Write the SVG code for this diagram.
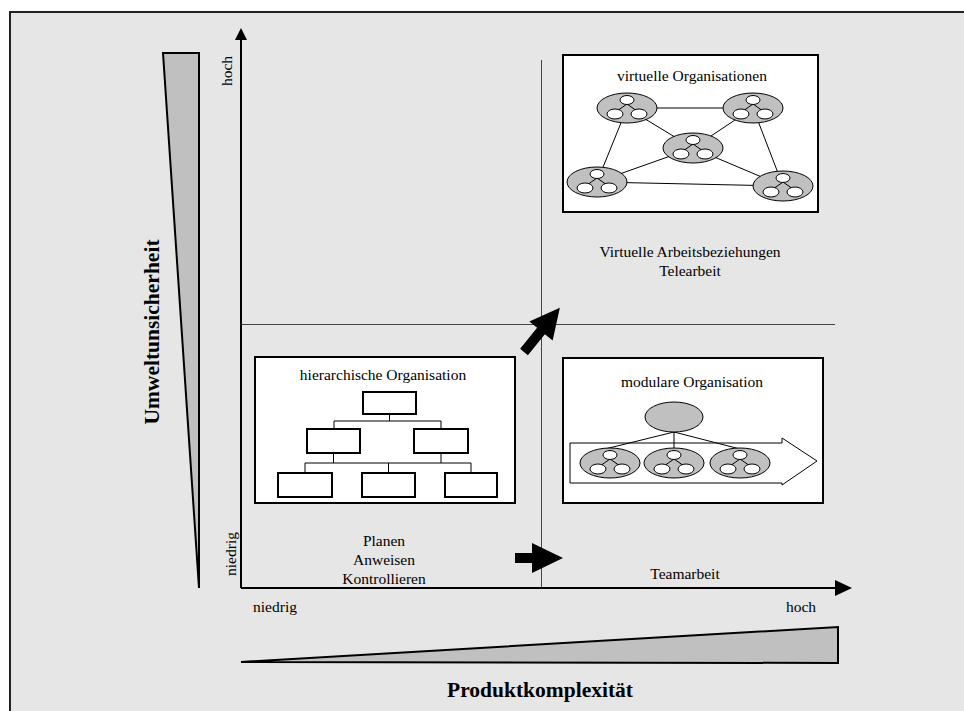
<svg xmlns="http://www.w3.org/2000/svg" width="964" height="711" viewBox="0 0 964 711">
<defs>
<style>
text{font-family:"Liberation Serif","Times New Roman",serif;fill:#000}
.lbl{font-size:15.5px;text-anchor:middle}
.big{font-size:21.5px;font-weight:bold;text-anchor:middle}
.box{fill:#fff;stroke:#000;stroke-width:2}
.thin{stroke:#000;stroke-width:1;fill:none}
.div{stroke:#444;stroke-width:1}
.grp{fill:#c0c0c0;stroke:#000;stroke-width:1}
.sm{fill:#fff;stroke:#000;stroke-width:1}
.wedge{fill:#c0c0c0;stroke:#000;stroke-width:2;stroke-linejoin:miter}
</style>
<g id="team">
<ellipse class="grp" cx="0" cy="0" rx="30" ry="15"/>
<path class="thin" d="M0,-4 L-10,3 M0,-4 L10,3"/>
<ellipse class="sm" cx="0" cy="-8" rx="7" ry="4.5"/>
<ellipse class="sm" cx="-12" cy="6" rx="8" ry="5"/>
<ellipse class="sm" cx="12" cy="6" rx="8" ry="5"/>
</g>
</defs>
<rect x="0" y="0" width="964" height="711" fill="#fff"/>
<rect x="10" y="12" width="1000" height="800" fill="#e6e6e6" stroke="#222" stroke-width="2"/>

<g id="wedges">
<polygon class="wedge" points="163,53 199,53 199,588"/>
<polygon class="wedge" points="241,662 838,627 838,663"/>
</g>

<g id="connectors">
<line class="div" x1="541.5" y1="60" x2="541.5" y2="588"/>
<line class="div" x1="241" y1="324.5" x2="835" y2="324.5"/>
<line x1="241" y1="588" x2="241" y2="38" stroke="#000" stroke-width="2"/>
<polygon points="241,28 235,40 247,40" fill="#000"/>
<line x1="241" y1="588" x2="836" y2="588" stroke="#000" stroke-width="2"/>
<polygon points="852,588 835,580 835,596" fill="#000"/>
<polygon points="515,553 532,553 532,543 563,558 532,573 532,563 515,563" fill="#000"/>
<path d="M0,-5 L27,-5 L27,-15 L57,0 L27,15 L27,5 L0,5 Z" fill="#000" transform="translate(524,352) rotate(-51)"/>
</g>

<g id="axis-labels">
<text class="big" transform="translate(159,332) rotate(-90)">Umweltunsicherheit</text>
<text class="big" x="540" y="697">Produktkomplexität</text>
<text class="lbl" transform="translate(232,71) rotate(-90)">hoch</text>
<text class="lbl" transform="translate(236,554) rotate(-90)">niedrig</text>
<text class="lbl" x="275" y="612">niedrig</text>
<text class="lbl" x="801" y="612">hoch</text>
</g>

<g id="virtual">
<rect class="box" x="563" y="55" width="255" height="157"/>
<text class="lbl" x="692" y="81">virtuelle Organisationen</text>
<path class="thin" d="M627,108 L753,108 M627,108 L693,148 M753,108 L693,148 M627,108 L597,182 M753,108 L783,186 M693,148 L597,182 M693,148 L783,186 M597,182 L783,186"/>
<use href="#team" x="627" y="108"/>
<use href="#team" x="753" y="108"/>
<use href="#team" x="693" y="148"/>
<use href="#team" x="597" y="182"/>
<use href="#team" x="783" y="186"/>
</g>

<g id="virtual-text">
<text class="lbl" x="690" y="257">Virtuelle Arbeitsbeziehungen</text>
<text class="lbl" x="690" y="276">Telearbeit</text>
</g>

<g id="hierarchy">
<rect class="box" x="255" y="357" width="260" height="146"/>
<text class="lbl" x="383" y="380">hierarchische Organisation</text>
<path class="thin" d="M389.5,414 V421 M334,421 H441 M334,421 V429 M441,421 V429 M333.5,453 V463 M441,453 V463 M305,463 H471 M305,463 V473 M388.5,463 V473 M471,463 V473"/>
<rect class="box" x="363" y="392" width="53" height="22"/>
<rect class="box" x="307" y="429" width="53" height="24"/>
<rect class="box" x="414" y="429" width="54" height="24"/>
<rect class="box" x="278" y="473" width="54" height="24"/>
<rect class="box" x="362" y="473" width="53" height="24"/>
<rect class="box" x="445" y="473" width="52" height="24"/>
</g>

<g id="hierarchy-text">
<text class="lbl" x="384" y="546">Planen</text>
<text class="lbl" x="384" y="565">Anweisen</text>
<text class="lbl" x="384" y="584">Kontrollieren</text>
</g>

<g id="modular">
<rect class="box" x="563" y="358" width="260" height="145"/>
<text class="lbl" x="692" y="387">modulare Organisation</text>
<polygon class="sm" points="570,443 782,443 782,438 817,461 782,485 782,483 570,483"/>
<path class="thin" d="M674,432 L605,449 M674,432 L674,449 M674,432 L740,449"/>
<ellipse class="grp" cx="674" cy="417" rx="29" ry="15"/>
<use href="#team" x="610" y="463"/>
<use href="#team" x="674" y="463"/>
<use href="#team" x="740" y="463"/>
</g>

<g id="modular-text">
<text class="lbl" x="685" y="579">Teamarbeit</text>
</g>
</svg>
